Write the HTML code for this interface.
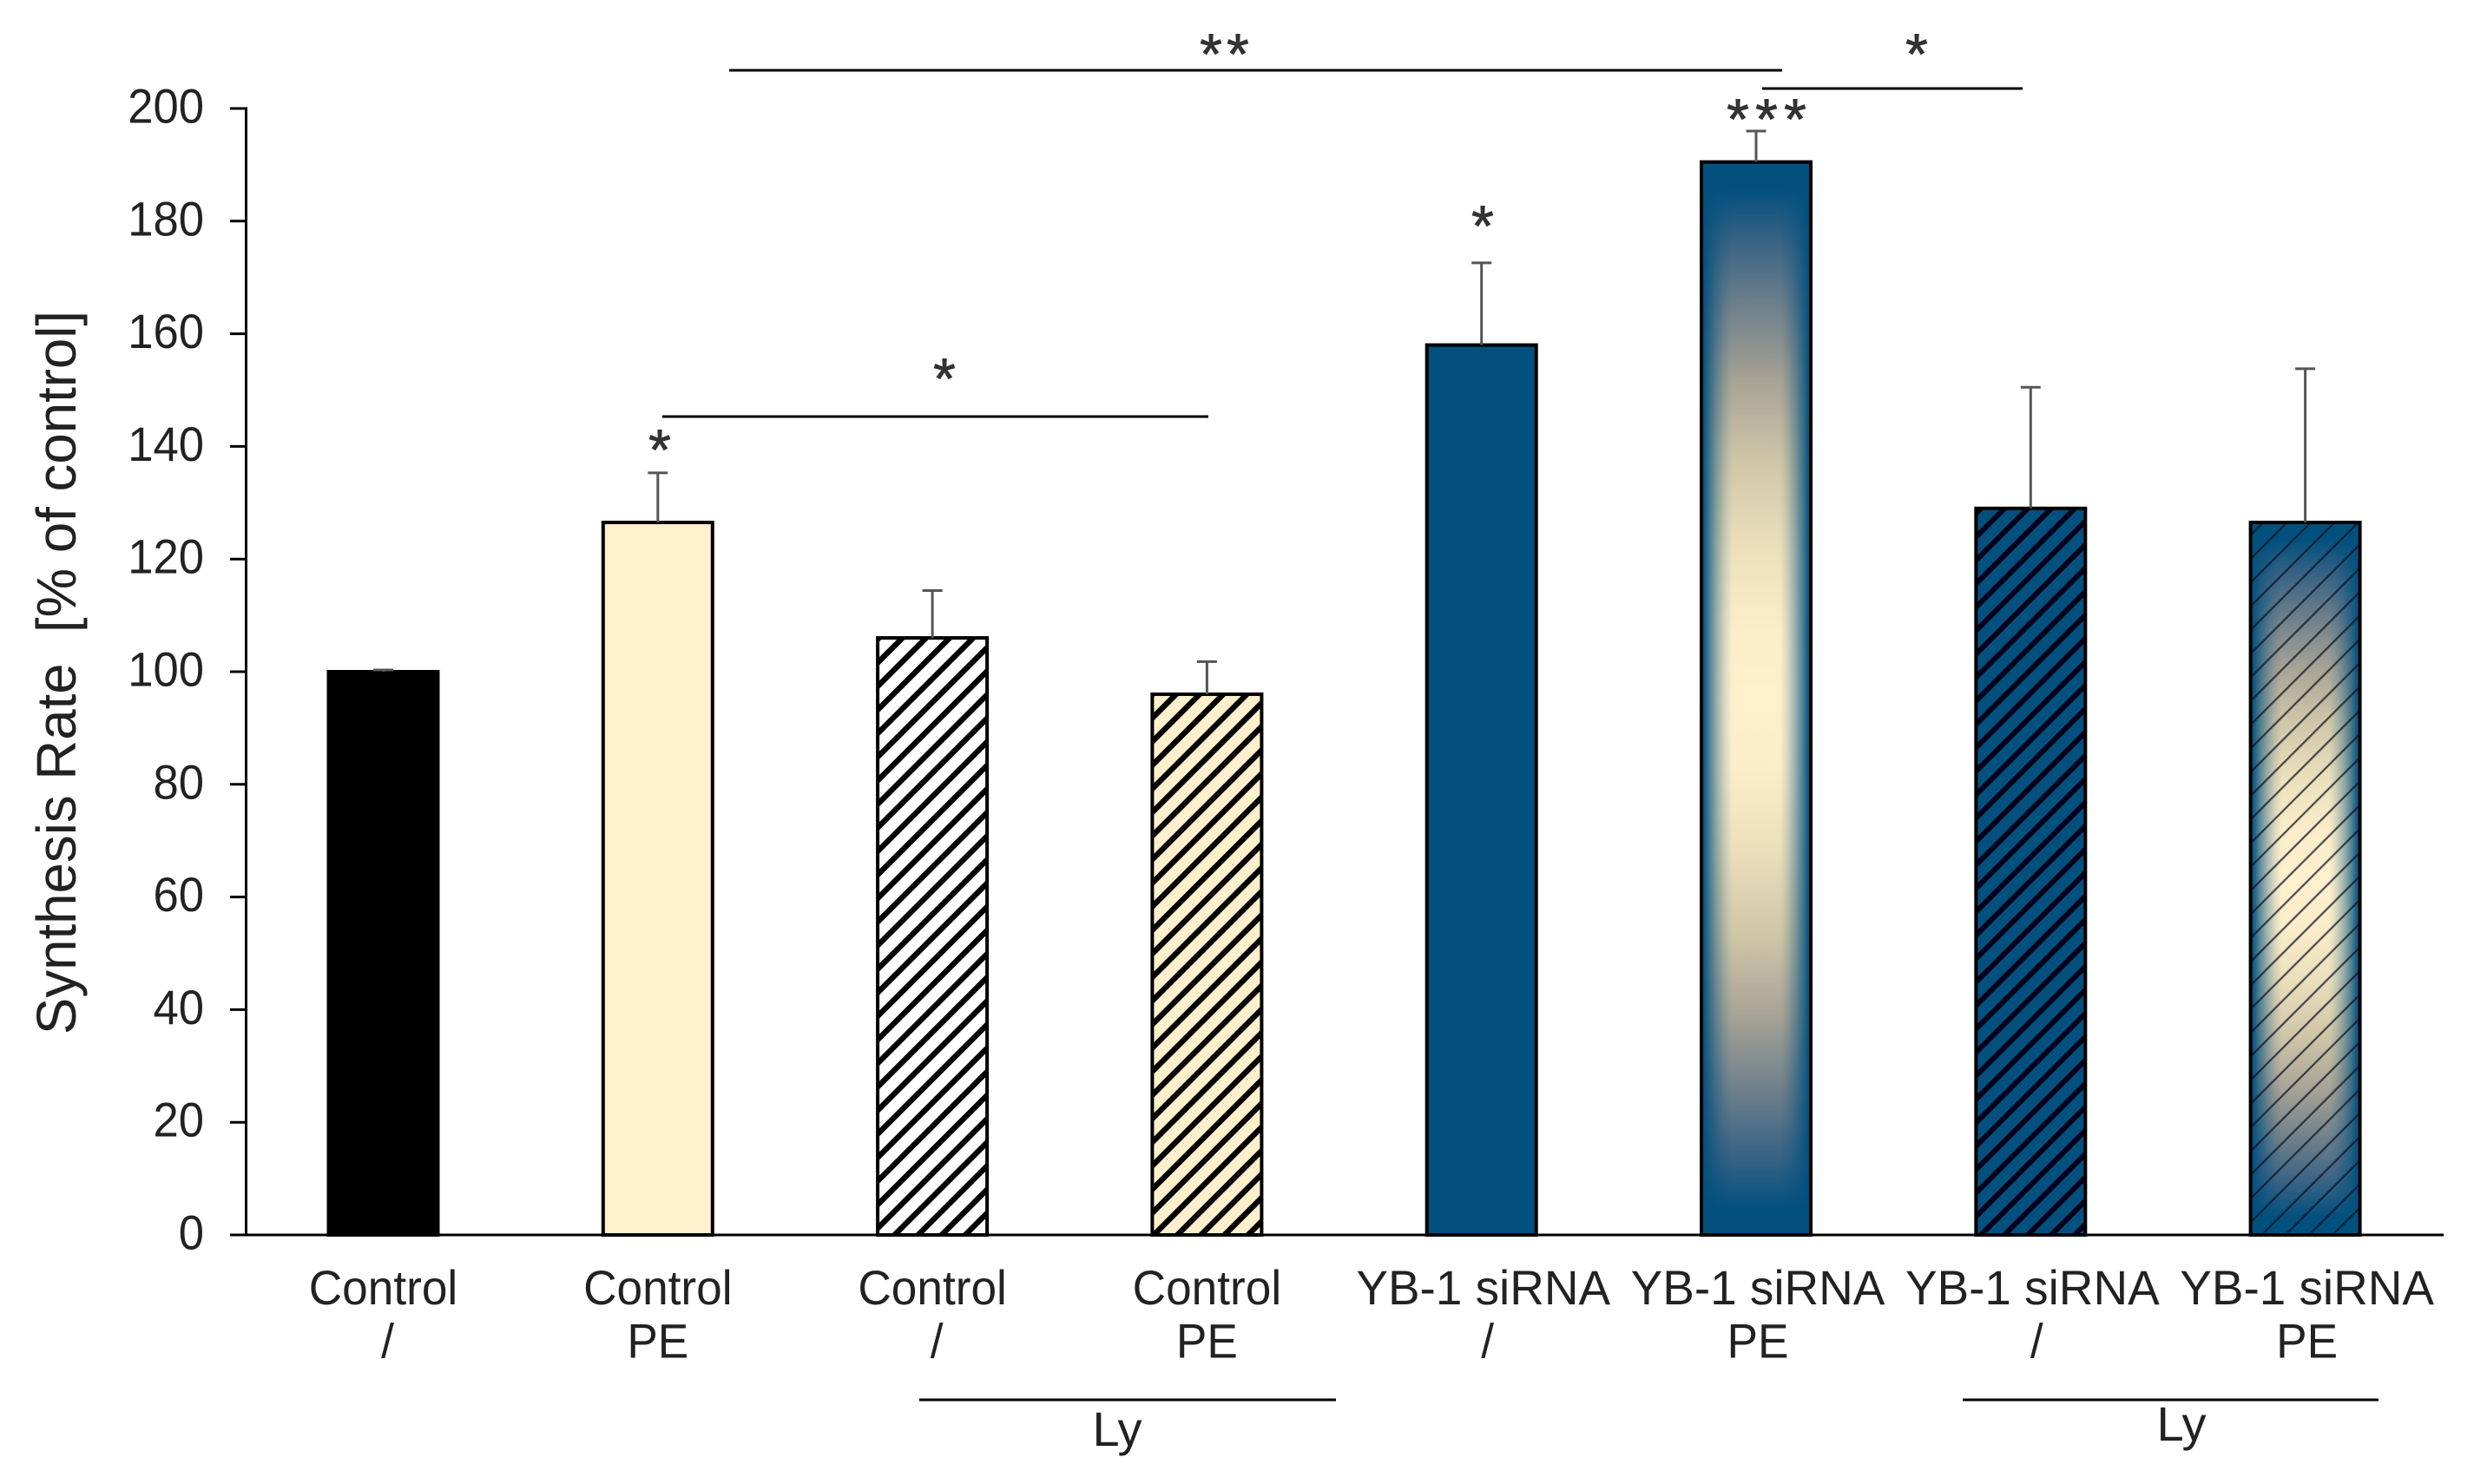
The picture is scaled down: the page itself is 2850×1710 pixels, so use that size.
<!DOCTYPE html>
<html lang="en">
<head>
<meta charset="utf-8">
<title>Synthesis Rate bar chart</title>
<style>
html,body{margin:0;padding:0;background:#fff;}
svg{display:block;}
text{font-family:"Liberation Sans",Arial,sans-serif;fill:#222222;}
.star{fill:#333333;stroke:#333333;stroke-width:0.9px;}
</style>
</head>
<body>
<svg id="chart" xmlns="http://www.w3.org/2000/svg" width="2850" height="1710" viewBox="0 0 2850 1710">
  <rect x="0" y="0" width="2850" height="1710" fill="#ffffff"/>
  <defs>
    <pattern id="hatch-wide" patternUnits="userSpaceOnUse" width="27.15" height="27.15" patternTransform="translate(10,0)">
      <path d="M-5,5 L5,-5 M0,27.15 L27.15,0 M22.15,32.15 L32.15,22.15" stroke="#000" stroke-width="6.4" fill="none"/>
    </pattern>
    <pattern id="hatch-dense" patternUnits="userSpaceOnUse" width="27" height="27" patternTransform="translate(6,0)">
      <path d="M-5,5 L5,-5 M0,27 L27,0 M22,32 L32,22" stroke="#00001a" stroke-width="6" fill="none"/>
    </pattern>
    <pattern id="hatch-thin" patternUnits="userSpaceOnUse" width="27.3" height="27.3" patternTransform="translate(15.3,0)">
      <path d="M-5,5 L5,-5 M0,27.3 L27.3,0 M22.3,32.3 L32.3,22.3" stroke="#0a0f1e" stroke-opacity="0.72" stroke-width="2.2" fill="none"/>
    </pattern>
  </defs>
  <g id="bars"></g>
  <g id="errors"></g>
  <g id="axes"></g>
  <g id="xlabels"></g>

  <text transform="translate(87,775) rotate(-90)" text-anchor="middle" font-size="63.6">Synthesis Rate&#160;&#160;[% of control]</text>

  <g font-size="66" text-anchor="middle">
    <line x1="840" y1="81" x2="2053" y2="81" stroke="#000" stroke-width="3"/>
    <line x1="2030" y1="102" x2="2330" y2="102" stroke="#000" stroke-width="3"/>
    <line x1="763" y1="480" x2="1392" y2="480" stroke="#000" stroke-width="3"/>
    <line x1="1059" y1="1613" x2="1539" y2="1613" stroke="#000" stroke-width="3"/>
    <line x1="2261" y1="1613" x2="2740" y2="1613" stroke="#000" stroke-width="3"/>
    <text class="star" x="1395" y="85">*</text>
    <text class="star" x="1426" y="85">*</text>
    <text class="star" x="2208" y="85">*</text>
    <text class="star" x="1088" y="459">*</text>
    <text class="star" x="760" y="541">*</text>
    <text class="star" x="1708" y="283">*</text>
    <text class="star" x="2002" y="160">*</text>
    <text class="star" x="2035" y="160">*</text>
    <text class="star" x="2068" y="160">*</text>
    <text x="1287" y="1666" font-size="56">Ly</text>
    <text x="2513" y="1660" font-size="56">Ly</text>
  </g>
</svg>
<script>
var categories = ["Control", "Control", "Control", "Control", "YB-1 siRNA", "YB-1 siRNA", "YB-1 siRNA", "YB-1 siRNA"];
var treatments = ["/", "PE", "/", "PE", "/", "PE", "/", "PE"];
var values = [100, 126.5, 106, 96, 158, 190.5, 129, 126.5];
var errorTops = [100.3, 135.3, 114.4, 101.8, 172.6, 196, 150.5, 153.8];
var yTicks = [0, 20, 40, 60, 80, 100, 120, 140, 160, 180, 200];
var barStyles = ["black", "cream", "stripe-white", "stripe-cream", "blue", "glow", "stripe-blue", "glow-thin"];

var NS = "http://www.w3.org/2000/svg";
var BLUE = "#02507e", CREAM = "#fff0cd";
var svg = document.getElementById("chart");
var defs = svg.querySelector("defs");
var barsG = document.getElementById("bars");
var errG = document.getElementById("errors");
var axesG = document.getElementById("axes");
var xlabG = document.getElementById("xlabels");

function yScale(v) { return 1423 - v * 6.49; }
function xScale(i) { return 441.5 + i * 316.3; }
var BAR_W = 126;

function make(tag, attrs, parent) {
  var el = document.createElementNS(NS, tag);
  for (var k in attrs) el.setAttribute(k, attrs[k]);
  parent.appendChild(el);
  return el;
}

function vGradient(id, y0, y1) {
  var g = make("linearGradient", {id: id, gradientUnits: "userSpaceOnUse", x1: 0, x2: 0, y1: y0, y2: y1}, defs);
  [[0, BLUE], [0.05, BLUE], [0.15, "#3a6384"], [0.27, "#6f808b"], [0.41, "#a8a396"], [0.56, "#d0c6a8"], [0.72, "#ebdfbc"], [0.87, "#fbedc9"], [1, CREAM]].forEach(function (s) {
    make("stop", {offset: s[0], "stop-color": s[1]}, g);
  });
  return g;
}

function hGradient(id, x0, x1) {
  var g = make("linearGradient", {id: id, gradientUnits: "userSpaceOnUse", x1: x0, x2: x1, y1: 0, y2: 0}, defs);
  [[0, 1], [0.03, 0.92], [0.08, 0.66], [0.15, 0.36], [0.22, 0.13], [0.28, 0],
   [0.72, 0], [0.78, 0.13], [0.85, 0.36], [0.92, 0.66], [0.97, 0.92], [1, 1]].forEach(function (s) {
    make("stop", {offset: s[0], "stop-color": BLUE, "stop-opacity": s[1]}, g);
  });
  return g;
}

values.forEach(function (v, i) {
  var cx = xScale(i), top = yScale(v), bottom = yScale(0), x = cx - BAR_W / 2, h = bottom - top;
  var style = barStyles[i];
  var group = make("g", {}, barsG);
  
  
  var base = style === "black" ? "#000000"
    : (style === "cream" || style === "stripe-cream") ? CREAM
    : style === "stripe-white" ? "#ffffff"
    : BLUE;
  make("rect", {x: x, y: top, width: BAR_W, height: h, fill: base}, group);
  if (style === "glow" || style === "glow-thin") {
    var mid = (top + bottom) / 2;
    vGradient("glow-top-" + i, top, mid);
    vGradient("glow-bot-" + i, bottom, mid);
    hGradient("glow-side-" + i, x, x + BAR_W);
    make("rect", {x: x, y: top, width: BAR_W, height: h / 2 + 0.5, fill: "url(#glow-top-" + i + ")"}, group);
    make("rect", {x: x, y: mid, width: BAR_W, height: h / 2, fill: "url(#glow-bot-" + i + ")"}, group);
    make("rect", {x: x, y: top, width: BAR_W, height: h, fill: "url(#glow-side-" + i + ")"}, group);
  }
  if (style === "stripe-white" || style === "stripe-cream") {
    make("rect", {x: x, y: top, width: BAR_W, height: h, fill: "url(#hatch-wide)"}, group);
  }
  if (style === "stripe-blue") {
    make("rect", {x: x, y: top, width: BAR_W, height: h, fill: "url(#hatch-dense)"}, group);
  }
  if (style === "glow-thin") {
    make("rect", {x: x, y: top, width: BAR_W, height: h, fill: "url(#hatch-thin)"}, group);
  }
  make("rect", {x: x, y: top, width: BAR_W, height: h, fill: "none", stroke: "#000", "stroke-width": 4}, group);
});

errorTops.forEach(function (e, i) {
  var cx = xScale(i), y0 = yScale(values[i]), y1 = yScale(e);
  var eb = make("path", {d: "M" + cx + "," + y0 + " L" + cx + "," + y1 + " M" + (cx - 11.5) + "," + y1 + " L" + (cx + 11.5) + "," + y1, stroke: "#555555", "stroke-width": 3, fill: "none"}, errG);
  
  
});

var yAxis = make("line", {x1: 283.5, x2: 283.5, y1: yScale(200) - 1.5, y2: yScale(0) + 1.5, stroke: "#000", "stroke-width": 3}, axesG);



var xAxis = make("line", {x1: 265, x2: 2815, y1: yScale(0), y2: yScale(0), stroke: "#000", "stroke-width": 3}, axesG);



yTicks.forEach(function (t) {
  var y = yScale(t);
  var tick = make("line", {x1: 265, x2: 283, y1: y, y2: y, stroke: "#000", "stroke-width": 3}, axesG);
  
  
  var lab = make("text", {transform: "translate(235," + (y + 16.5) + ") scale(0.94,1)", "text-anchor": "end", "font-size": 56}, axesG);
  lab.textContent = String(t);
  
  
});

categories.forEach(function (c, i) {
  var cx = xScale(i) + (i > 3 ? 2 : 0);
  var sx = c === "Control" ? 0.95 : 0.98;
  var l1 = make("text", {transform: "translate(" + cx + ",1503) scale(" + sx + ",1)", "text-anchor": "middle", "font-size": 56}, xlabG);
  l1.textContent = c;
  
  
  var isSlash = treatments[i] === "/";
  var l2 = make("text", {transform: "translate(" + (cx + (isSlash ? 5 : 0)) + ",1564.5) scale(0.95,1)", "text-anchor": "middle", "font-size": 56}, xlabG);
  l2.textContent = treatments[i];
  
  
});
</script>
</body>
</html>
